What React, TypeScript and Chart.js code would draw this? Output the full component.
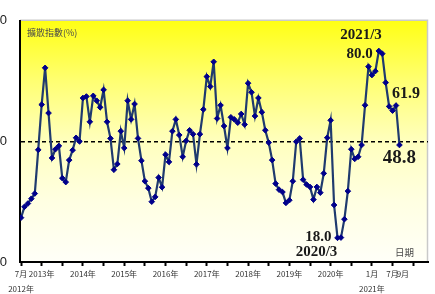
import React, { useEffect, useRef } from "react";
import { Chart, registerables } from "chart.js";

Chart.register(...registerables);

// Monthly diffusion index, 2012/7 .. 2021/9 (index 0 = 2012/7)
const diffusionIndex: number[] = [
  24.7, 28.3, 29.4, 31.0, 32.7, 47.2, // 2012/7-12
  62.2, 74.4, 59.4, 44.5, 47.4, 48.5, 37.8, 36.5, 43.8, 47.1, 51.2, 50.0, // 2013
  64.4, 64.9, 56.5, 65.1, 63.5, 61.3, 67.1, 56.5, 51.0, 40.6, 42.5, 53.4, // 2014
  47.8, 63.5, 57.3, 62.4, 51.0, 43.6, 36.8, 34.5, 30.0, 31.6, 38.0, 34.8, // 2015
  45.6, 43.2, 53.4, 57.3, 52.1, 44.9, 50.2, 53.7, 52.4, 42.4, 52.4, 60.6, // 2016
  71.5, 68.2, 76.4, 57.6, 62.0, 55.1, 47.8, 58.0, 57.3, 56.2, 59.1, 55.6, // 2017
  69.3, 66.3, 58.4, 64.4, 59.7, 53.7, 49.6, 43.8, 36.0, 34.0, 33.2, 29.6, // 2018
  30.5, 36.8, 49.9, 51.0, 37.3, 35.7, 34.9, 30.7, 34.9, 33.0, 39.4, 51.2, // 2019
  57.0, 28.9, 18.0, 18.1, 24.2, 33.5, 47.4, 44.2, 44.9, 48.8, 62.0, 74.8, // 2020
  72.0, 73.3, 80.0, 79.1, 69.5, 61.6, 60.2, 61.9, 48.8, // 2021/1-9
];

// x tick marks every 6 months (month index from 2012/7)
const tickMonths: number[] = [0, 6, 12, 18, 24, 30, 36, 42, 48, 54, 60, 66, 72, 78, 84, 90, 96, 102, 108, 114];
const labelMonths: number[] = [0, 6, 18, 30, 42, 54, 66, 78, 90, 102, 108, 111];
const labelTexts: (string | string[])[] = [
  ["7月", "2012年"], "2013年", "2014年", "2015年", "2016年", "2017年",
  "2018年", "2019年", "2020年", ["1月", "2021年"], "7月", "9月",
];
const yTickValues: number[] = [10, 50, 90];
const referenceLevel = 50;

const annotIndex: number[] = [104, 104, 109, 110, 92, 92];
const annotText: string[] = ["2021/3", "80.0", "61.9", "48.8", "18.0", "2020/3"];
const yAxisCaption = "擴散指數(%)";
const xAxisCaption = "日期";

// style of annotations (offsets from the point, font size, alignment)
const annotStyle = [
  { dx: 3, dy: -16, size: 15, align: "right" },
  { dx: -6, dy: 3, size: 15, align: "right" },
  { dx: -4, dy: -12, size: 16, align: "left" },
  { dx: 0, dy: 13, size: 19, align: "center" },
  { dx: -6, dy: -1, size: 15, align: "right" },
  { dx: -21, dy: 14, size: 15, align: "center" },
];

const CJK = "'Noto Sans CJK TC', 'Noto Sans', sans-serif";

const bgPlugin = {
  id: "bgGradient",
  beforeDraw(chart: any) {
    const { ctx, chartArea: a } = chart;
    const g = ctx.createLinearGradient(0, a.top, 0, a.bottom);
    g.addColorStop(0, "#FFFF14");
    g.addColorStop(0.25, "#FFFF72");
    g.addColorStop(0.5, "#FFFFBE");
    g.addColorStop(0.75, "#FFFFE2");
    g.addColorStop(1, "#FFFFF8");
    ctx.save();
    ctx.fillStyle = g;
    ctx.fillRect(a.left, a.top, a.right - a.left, a.bottom - a.top);
    ctx.strokeStyle = "#c9c9c9";
    ctx.lineWidth = 1.5;
    ctx.beginPath();
    ctx.moveTo(a.left, a.top - 0.5);
    ctx.lineTo(a.right - 0.5, a.top - 0.5);
    ctx.lineTo(a.right - 0.5, a.bottom);
    ctx.stroke();
    ctx.restore();
  },
};

const annotPlugin = {
  id: "annotations",
  afterDatasetsDraw(chart: any) {
    const { ctx, chartArea: a } = chart;
    const xs = chart.scales.x;
    const ys = chart.scales.y;
    ctx.save();
    annotIndex.forEach((idx, k) => {
      const st = annotStyle[k];
      const x = xs.getPixelForValue(idx) + st.dx;
      const y = ys.getPixelForValue(diffusionIndex[idx]) + st.dy;
      ctx.font = `bold ${st.size}px 'Liberation Serif', 'DejaVu Serif', serif`;
      ctx.textAlign = st.align;
      ctx.textBaseline = "middle";
      ctx.fillStyle = "#1a1a1a";
      ctx.fillText(annotText[k], x, y);
    });
    ctx.font = `9px ${CJK}`;
    ctx.fillStyle = "#4a4a4a";
    ctx.textAlign = "left";
    ctx.textBaseline = "middle";
    ctx.fillText(yAxisCaption, a.left + 7, a.top + 12);
    ctx.font = `9.5px ${CJK}`;
    ctx.fillText(xAxisCaption, a.right - 33, a.bottom - 10);
    ctx.restore();
  },
};

export default function App() {
  const ref = useRef<HTMLCanvasElement | null>(null);

  useEffect(() => {
    if (!ref.current) return;
    const points = diffusionIndex.map((v, i) => ({ x: i, y: v }));
    const allTicks = Array.from(new Set([...tickMonths, ...labelMonths])).sort((a, b) => a - b);

    const chart = new Chart(ref.current, {
      type: "line",
      data: {
        datasets: [
          {
            label: yAxisCaption,
            data: points,
            borderColor: "#1F3A6E",
            borderWidth: 2.2,
            pointStyle: "rectRot",
            pointRadius: 2.8,
            pointBackgroundColor: "#00008B",
            pointBorderColor: "#00008B",
            pointBorderWidth: 1,
            tension: 0,
          },
        ],
      },
      options: {
        animation: false,
        responsive: false,
        devicePixelRatio: 1,
        layout: { padding: { top: 18, right: 7, left: 0, bottom: 0 } },
        plugins: {
          legend: { display: false },
          tooltip: { enabled: false },
          title: { display: false },
        },
        scales: {
          x: {
            type: "linear",
            min: -0.3,
            max: 118.3,
            afterBuildTicks: (axis: any) => {
              axis.ticks = allTicks.map((v) => ({ value: v }));
            },
            afterFit: (axis: any) => {
              axis.height = 32;
            },
            ticks: {
              autoSkip: false,
              maxRotation: 0,
              minRotation: 0,
              padding: 1,
              color: "#333",
              font: { size: 8, family: CJK, lineHeight: 1.8 },
              callback: (value: any) => {
                const k = labelMonths.indexOf(Number(value));
                return k >= 0 ? labelTexts[k] : "";
              },
            },
            grid: {
              drawOnChartArea: false,
              drawTicks: true,
              tickLength: 4,
              tickWidth: 2,
              tickColor: (ctx: any) =>
                ctx.tick && tickMonths.includes(ctx.tick.value) ? "#000" : "rgba(0,0,0,0)",
            },
            border: { display: true, color: "#000", width: 2 },
          },
          y: {
            type: "linear",
            min: 10,
            max: 90,
            afterBuildTicks: (axis: any) => {
              axis.ticks = yTickValues.map((v) => ({ value: v }));
            },
            afterFit: (axis: any) => {
              axis.width = 50;
            },
            ticks: {
              padding: 13,
              color: "#222",
              font: { size: 13, family: "'Liberation Sans', Arial, sans-serif" },
            },
            grid: {
              drawTicks: false,
              lineWidth: 1.6,
              color: (ctx: any) =>
                ctx.tick && ctx.tick.value === referenceLevel ? "#000" : "rgba(0,0,0,0)",
            },
            border: { display: true, color: "#000", width: 2, dash: [4, 3] },
          },
        },
      },
      plugins: [bgPlugin, annotPlugin],
    } as any);
    return () => chart.destroy();
  }, []);

  return (
    <div
      style={{
        position: "fixed",
        left: 0,
        top: 0,
        width: 435,
        height: 294,
        overflow: "hidden",
        background: "#fff",
      }}
    >
      <canvas
        ref={ref}
        width={465}
        height={294}
        style={{ position: "absolute", left: -30, top: 0, width: 465, height: 294 }}
      />
    </div>
  );
}
